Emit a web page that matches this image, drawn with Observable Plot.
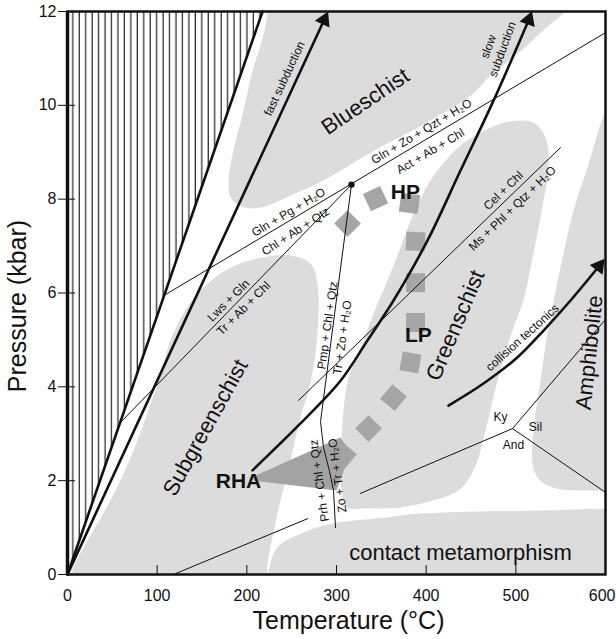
<!DOCTYPE html>
<html><head><meta charset="utf-8">
<script src="https://cdn.jsdelivr.net/npm/d3@7"></script>
<script src="https://cdn.jsdelivr.net/npm/@observablehq/plot@0.6"></script>
<style>body{margin:0;background:#fff}</style>
</head><body><div id="chart"></div>
<script>
// axis ticks
const tempTicks = [0,100,200,300,400,500,600];
const presTicks = [0,2,4,6,8,10,12];

// gray metamorphic fields (T °C, P kbar)
const blueschist = [[220.8,13.09],[224.2,12.45],[221.9,11.81],[215.2,11.27],[207.4,10.81],[196.3,9.89],[185.1,9.04],[179.6,8.40],[181.8,8.04],[192.9,7.85],[215.2,7.82],[248.7,8.08],[285.5,8.40],[337.9,8.99],[397.0,9.59],[452.8,10.25],[471.7,10.64],[499.6,11.06],[533.1,11.64],[557.6,12.06],[566.5,12.45],[572.1,13.09]];
const greenschist = [[421.6,8.82],[441.6,9.19],[471.7,9.52],[494.1,9.66],[519.7,9.63],[533.1,9.31],[536.4,8.67],[530.9,7.97],[524.2,7.27],[516.4,6.54],[508.5,5.84],[496.3,5.20],[479.5,4.13],[466.2,3.07],[455.0,2.32],[438.3,1.83],[408.2,1.58],[371.4,1.43],[334.6,1.41],[312.3,1.43],[305.6,1.79],[305.6,2.64],[307.8,3.50],[313.4,4.18],[330.1,4.99],[341.3,5.56],[356.9,6.27],[371.4,6.97],[385.9,7.69],[404.8,8.40]];
const subgreenschist = [[3.3,-0.34],[5.6,0.09],[22.3,0.72],[48.0,1.58],[73.6,2.64],[100.4,4.07],[118.2,5.14],[145.0,5.99],[181.8,6.54],[218.6,6.76],[248.7,6.80],[271.0,6.63],[278.8,6.20],[278.8,5.14],[271.0,4.07],[259.8,3.35],[248.7,2.43],[234.2,1.30],[223.0,0.23],[218.6,-0.34],[103.7,-0.77]];
const contact = [[219.7,-0.34],[224.2,0.09],[234.2,0.58],[259.8,0.87],[296.7,1.09],[352.4,1.21],[393.7,1.30],[446.1,1.34],[519.7,1.36],[616.7,1.39],[639,1.3],[639,-0.55],[427,-0.77]];
const amphibolite = [[616.7,10.21],[600.0,9.85],[588.8,9.25],[579.9,8.67],[564.3,7.76],[549.8,6.54],[535.3,5.14],[527.5,4.13],[519.7,3.07],[518.6,2.37],[524.2,2.07],[542.0,1.85],[597.8,1.79],[627.9,1.79],[639,5.84]];
const rhaWedge = [[207.4,2.09],[304.5,2.92],[315.6,2.60],[300.0,1.79],[207.4,2.00]];

// hatched forbidden zone boundary
const hatchEdge = [[0,0],[217.5,12]];

// P-T path squares
const squareT = [307.8,335.7,363.6,382.5,388.1,388.1,388.1,381.4,343.5,312.3];
const squareP = [2.54,3.11,3.77,4.52,5.37,6.22,7.10,7.91,8.01,7.48];
const squareAngle = [40,45,40,10,0,0,3,8,-25,45];

// thick trajectories
const fastSub = [[0,0],[286.2,11.82]];
const slowSub = [[206.3,2.22],[259.8,3.22],[304.5,4.13],[334.6,4.99],[363.6,5.84],[401.5,7.12],[438.3,8.61],[475.1,10.10],[514.4,11.82]];
const collision = [[424.9,3.60],[463.9,4.07],[501.9,4.63],[530.9,5.20],[561.0,5.84],[592.7,6.57]];
const headT = [286.2,514.4,592.7];
const headP = [11.82,11.82,6.57];
const headAngle = [25,20,37];

// thin reaction lines
const rxnUpper = [[107.8,5.95],[600,11.55]];
const rxnLws = [[59.1,3.24],[316.7,8.31]];
const rxnPmp = [[316.7,8.31],[282.2,3.26],[285.5,2.71],[292.2,2.2],[296.7,1.79],[298.9,1.0]];
const rxnMs = [[257.6,3.71],[549.8,9.10]];
const kyAnd = [[326.8,1.73],[496.3,3.11]];
const kySil = [[496.3,3.11],[598.9,5.41]];
const andSil = [[496.3,3.11],[600,1.75]];
const rxnLow = [[118.2,0],[267.7,1.19]];
const triplePoint = [[316.7,8.31]];

// labels
const rxnText = ["Gln + Pg + H₂O","Chl + Ab + Qtz","Lws + Gln","Tr + Ab + Chl","Gln + Zo + Qzt + H₂O","Act + Ab + Chl","Cel + Chl","Ms + Phl + Qtz + H₂O","Pmp + Chl + Qtz","Tr + Zo + H₂O","Prh + Chl + Qtz","Zo + Tr + H₂O","fast subduction","slow","subduction","collision tectonics","Ky","Sil","And"];
const rxnT = [246.5,254.3,179.6,196.3,394.8,404.8,486.2,496.3,290.0,306.7,281.0,301.1,242,469.5,485.1,507.4,482.9,521.9,497.4];
const rxnP = [7.72,7.31,5.84,5.67,9.44,9.02,8.18,7.80,5.31,5.05,2.0,2.11,10.57,11.25,11.19,5.05,3.35,3.15,2.75];
const rxnAngle = [-31,-33,-45,-45,-31,-31,-44,-44,-82,-82,-98,-98,-65,-70,-70,-42,0,0,0];

const fieldText = ["Blueschist","Subgreenschist","Greenschist","Amphibolite","contact metamorphism"];
const fieldT = [332.3,153.9,432.7,582.2,438.3];
const fieldP = [10.08,3.13,5.31,4.73,0.45];
const fieldAngle = [-34,-61,-67,-84,0];

const pathText = ["HP","LP","RHA"];
const pathT = [376.9,391.4,190.7];
const pathP = [8.14,5.09,1.98];

// build tables
const pts = (id, arr) => arr.map(([T,P]) => ({id, T, P}));
const fields = [...pts("bs", blueschist), ...pts("gs", greenschist), ...pts("sgs", subgreenschist), ...pts("cm", contact), ...pts("am", amphibolite)];
const thin = [...pts("a", rxnUpper), ...pts("b", rxnLws), ...pts("c", rxnPmp), ...pts("d", rxnMs), ...pts("e", kyAnd), ...pts("f", kySil), ...pts("g", andSil), ...pts("h", rxnLow)];
const straightThick = [...pts("hatch", hatchEdge), ...pts("fast", fastSub)];
const curvedThick = [...pts("slow", slowSub), ...pts("coll", collision)];
const hatchArea = [{T: hatchEdge[0][0], lo: hatchEdge[0][1], hi: 12}, {T: hatchEdge[1][0], lo: hatchEdge[1][1], hi: 12}];
const squares = squareT.map((T,i) => ({T, P: squareP[i], a: squareAngle[i]}));
const heads = headT.map((T,i) => ({T, P: headP[i], a: headAngle[i]}));
const rxnLabels = rxnText.map((s,i) => ({s, T: rxnT[i], P: rxnP[i], a: rxnAngle[i]}));
const fieldLabels = fieldText.map((s,i) => ({s, T: fieldT[i], P: fieldP[i], a: fieldAngle[i]}));
const pathLabels = pathText.map((s,i) => ({s, T: pathT[i], P: pathP[i]}));

const ink = "#111";
const chart = Plot.plot({
  width: 616, height: 639,
  marginLeft: 67, marginRight: 11, marginTop: 11, marginBottom: 65,
  x: {domain: [0, 600]},
  y: {domain: [0, 12]},
  style: {fontFamily: "'Liberation Sans', Arial, sans-serif", fontSize: "12px", color: ink, background: "white", overflow: "visible"},
  marks: [
    Plot.line(fields, {x: "T", y: "P", z: "id", curve: "catmull-rom-closed", fill: "#dcdcdc", stroke: "none", clip: true}),
    Plot.areaY(hatchArea, {x: "T", y1: "lo", y2: "hi", fill: "url(#hatch)"}),
    Plot.dot(squares, {x: "T", y: "P", symbol: "square", r: 10.7, rotate: "a", fill: "#a6a6a6"}),
    Plot.line(rhaWedge, {x: d => d[0], y: d => d[1], curve: "linear-closed", fill: "#a3a3a3", stroke: "none"}),
    Plot.line(thin, {x: "T", y: "P", z: "id", stroke: ink, strokeWidth: 1}),
    Plot.line(straightThick, {x: "T", y: "P", z: "id", stroke: ink, strokeWidth: 2.6}),
    Plot.line(curvedThick, {x: "T", y: "P", z: "id", stroke: ink, strokeWidth: 2.6, curve: "catmull-rom"}),
    Plot.dot(heads, {x: "T", y: "P", symbol: "triangle", r: 6, rotate: "a", fill: ink}),
    Plot.dot(triplePoint, {x: d => d[0], y: d => d[1], r: 3.2, fill: ink}),
    Plot.text(rxnLabels, {x: "T", y: "P", text: "s", rotate: "a", fontSize: 12, fill: ink}),
    Plot.text(fieldLabels, {x: "T", y: "P", text: "s", rotate: "a", fontSize: 22, fill: ink}),
    Plot.text(pathLabels, {x: "T", y: "P", text: "s", fontSize: 21, fontWeight: "bold", fill: ink}),
    Plot.frame({stroke: ink, strokeWidth: 2.5}),
    Plot.ruleX([0], {stroke: ink, strokeWidth: 3.5}),
    Plot.axisY(presTicks, {tickSize: 17, dx: 8, tickPadding: 2, fontSize: 16, label: null}),
    Plot.axisX(tempTicks.slice(0, -1), {tickSize: 9, dy: -9, tickPadding: 15, fontSize: 16, label: null}),
    Plot.axisX(tempTicks.slice(-1), {tickSize: 0, tickPadding: 15, fontSize: 16, textAnchor: "end", dx: 10, label: null}),
    Plot.text(["Temperature (°C)"], {frameAnchor: "bottom", lineAnchor: "middle", textAnchor: "middle", dx: 12, dy: 46, fontSize: 25, fill: ink}),
    Plot.text(["Pressure (kbar)"], {frameAnchor: "left", lineAnchor: "middle", textAnchor: "middle", dx: -50, dy: 13, rotate: -90, fontSize: 25, fill: ink})
  ]
});
const svg = d3.select(chart);
const pat = svg.insert("defs", ":first-child").append("pattern")
  .attr("id", "hatch").attr("patternUnits", "userSpaceOnUse")
  .attr("x", 67).attr("y", 0).attr("width", 6.45).attr("height", 20);
pat.append("rect").attr("width", 6.45).attr("height", 20).attr("fill", "white");
pat.append("line").attr("x1", 5.8).attr("x2", 5.8).attr("y1", 0).attr("y2", 20).attr("stroke", "#222").attr("stroke-width", 1.2);
document.getElementById("chart").appendChild(chart);
</script>
</body></html>
